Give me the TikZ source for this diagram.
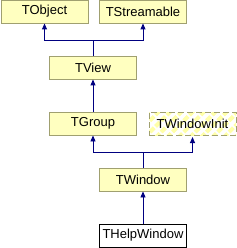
\documentclass[tikz,border=0pt]{standalone}
\usepackage{fontspec}
\setmainfont{Liberation Sans}
\usepackage{xcolor}
\usetikzlibrary{positioning,arrows.meta,calc,patterns.meta}

\definecolor{boxfill}{HTML}{FFFFC0}
\definecolor{hatch}{HTML}{FFFFA8}
\definecolor{boxline}{HTML}{A0A070}
\definecolor{arrline}{HTML}{000080}

\begin{document}
\begin{tikzpicture}[
    x=1pt, y=1pt,
    cls/.style      = {rectangle, draw=boxline, fill=boxfill, line width=0.9pt,
                       minimum width=87pt, minimum height=23pt, inner sep=0pt,
                       font=\fontsize{13}{15}\selectfont},
    current/.style  = {cls, draw=black, fill=white},
    undoc/.style    = {cls, dashed, dash pattern=on 6pt off 3pt,
                       pattern={Lines[angle=45, distance=8pt, line width=4pt]},
                       pattern color=hatch},
    inh/.style      = {-{Triangle[length=6pt, width=5pt]}, line width=0.9pt, draw=arrline},
]
  \useasboundingbox (0,0) rectangle (237,-248);

  % top row: base classes
  \node[cls] (TObject)     at (44.5, -11.5) {TObject};
  \node[cls] (TStreamable) at (143,  -11.5) {TStreamable};

  \node[cls] (TView) at (93, -67.5) {TView};

  \node[cls]   (TGroup)      at (93,    -123.5) {TGroup};
  \node[undoc] (TWindowInit) at (192.5, -123.5) {TWindowInit};

  \node[cls]     (TWindow)     at (143, -179.5) {TWindow};
  \node[current] (THelpWindow) at (143, -235.5) {THelpWindow};

  % inheritance connectors
  \coordinate (J1) at (93, -40);
  \coordinate (J2) at (143, -152);
  \draw[inh] (TView.north) -- (J1) -| (TObject.south);
  \draw[inh] (J1) -| (TStreamable.south);
  \draw[inh] (TGroup.north) -- (TView.south);
  \draw[inh] (TWindow.north) -- (J2) -| (TGroup.south);
  \draw[inh] (J2) -| (TWindowInit.south);
  \draw[inh] (THelpWindow.north) -- (TWindow.south);
\end{tikzpicture}
\end{document}
